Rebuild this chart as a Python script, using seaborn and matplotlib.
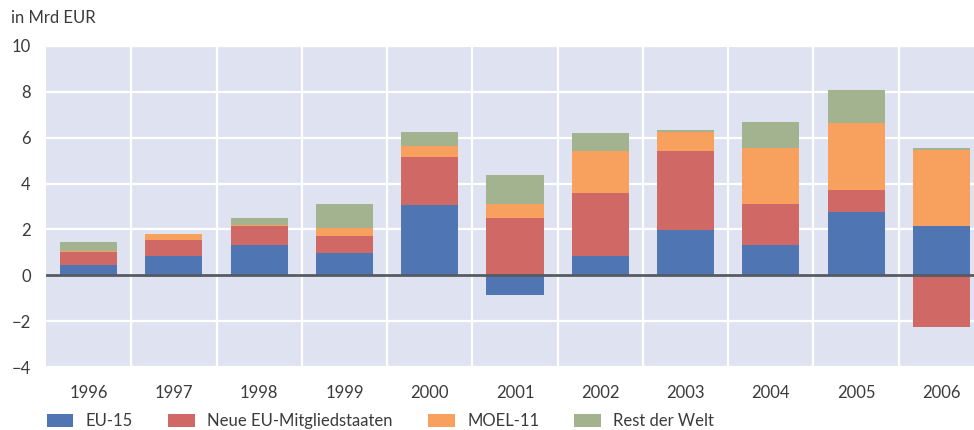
import numpy as np
import pandas as pd
import matplotlib
matplotlib.use("Agg")
import matplotlib.pyplot as plt
from matplotlib.patches import Patch
from matplotlib.ticker import FixedLocator
import seaborn as sns

# Direktinvestitionen nach Zielregion, in Mrd EUR
years = ["1996", "1997", "1998", "1999", "2000", "2001",
         "2002", "2003", "2004", "2005", "2006"]
eu15 = [0.47, 0.82, 1.30, 0.99, 3.05, -0.87, 0.86, 1.97, 1.30, 2.78, 2.13]
neue_eu = [0.53, 0.74, 0.84, 0.74, 2.10, 2.48, 2.73, 3.44, 1.79, 0.96, -2.27]
moel11 = [0.05, 0.26, 0.05, 0.34, 0.49, 0.62, 1.82, 0.83, 2.45, 2.89, 3.32]
rest_welt = [0.42, -0.09, 0.29, 1.02, 0.60, 1.26, 0.79, 0.09, 1.14, 1.44, 0.09]

series_names = ["EU-15", "Neue EU-Mitgliedstaaten", "MOEL-11", "Rest der Welt"]
series_values = [eu15, neue_eu, moel11, rest_welt]
series_colors = ["#4f76b3", "#d06965", "#f8a05e", "#a3b38f"]

text_color = "#3b3b3b"
sns.set_theme(style="darkgrid", rc={
    "axes.facecolor": "#dfe3f1",
    "grid.color": "white",
    "grid.linewidth": 1.6,
    "axes.edgecolor": "none",
})
plt.rcParams["font.family"] = ["Lato", "DejaVu Sans"]
plt.rcParams["text.color"] = text_color
plt.rcParams["xtick.color"] = text_color
plt.rcParams["ytick.color"] = text_color

fig = plt.figure(figsize=(9.74, 4.30), dpi=100)
ax = fig.add_axes([46 / 974, 1 - 367 / 430, (984 - 46) / 974, (367 - 46) / 430])

# Stack positive values upward and negative values downward from zero
pos_base = np.zeros(len(years))
neg_base = np.zeros(len(years))
for name, vals, col in zip(series_names, series_values, series_colors):
    v = np.asarray(vals, dtype=float)
    bottom = np.where(v >= 0, pos_base, neg_base)
    df = pd.DataFrame({"Jahr": years, "Wert": v})
    sns.barplot(data=df, x="Jahr", y="Wert", order=years, color=col,
                saturation=1, width=0.67, bottom=bottom, errorbar=None,
                linewidth=0, ax=ax)
    pos_base = pos_base + np.where(v > 0, v, 0)
    neg_base = neg_base + np.where(v < 0, v, 0)

ax.axhline(0, color="#555a63", lw=2, zorder=5)

ax.set_xlim(-0.5, len(years) - 0.5)
ax.set_ylim(-4, 10)
ax.set_yticks(np.arange(-4, 11, 2))
ax.set_yticklabels(["\u22124", "\u22122", "0", "2", "4", "6", "8", "10"])
ax.xaxis.set_minor_locator(FixedLocator(np.arange(0.5, len(years) - 0.5, 1)))
ax.grid(axis="x", which="major", visible=False)
ax.grid(axis="x", which="minor", visible=True, color="white", lw=1.6)
ax.set_axisbelow(True)
ax.tick_params(axis="both", which="both", length=0, labelsize=12, pad=11)
ax.tick_params(axis="x", pad=13)
ax.set_xlabel("")
ax.set_ylabel("")

fig.text(11 / 974, 1 - 18 / 430, "in Mrd EUR", fontsize=12, va="center",
         ha="left", color=text_color)

handles = [Patch(facecolor=c, edgecolor="none", label=n)
           for n, c in zip(series_names, series_colors)]
fig.legend(handles=handles, loc="lower left", ncol=4, frameon=False,
           bbox_to_anchor=(46 / 974 - 0.006, -0.013), fontsize=12,
           handlelength=1.6, handleheight=0.8, handletextpad=0.75,
           columnspacing=2.1, borderaxespad=0)

fig.savefig("out.png", dpi=100)
